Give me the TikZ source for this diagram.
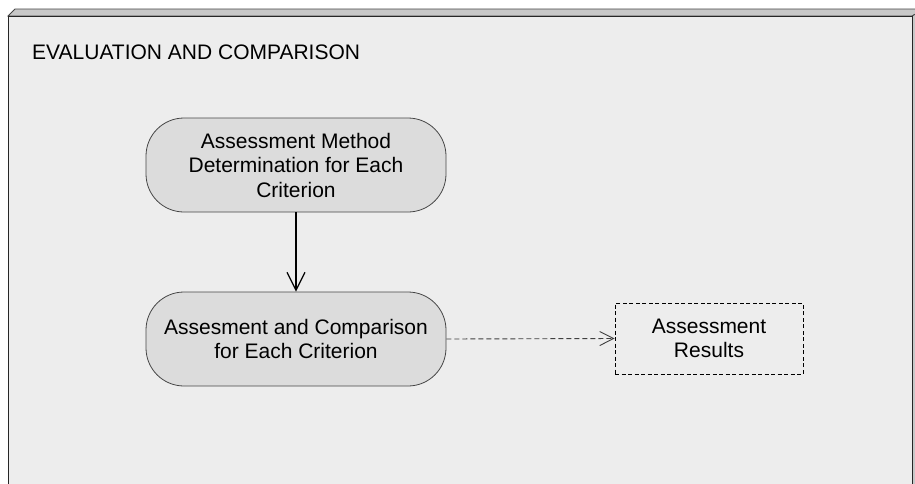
\documentclass[tikz,border=0pt]{standalone}
\usepackage{fontspec}
\setmainfont{Liberation Sans}
\usetikzlibrary{arrows.meta}
\definecolor{pkgfront}{RGB}{237,237,237}
\definecolor{pkgtop}{RGB}{200,200,200}
\definecolor{actfill}{RGB}{220,220,220}
\definecolor{edgegray}{RGB}{70,70,70}
\tikzset{
  txt/.style={font=\fontsize{21}{24.5}\selectfont, align=center},
  activity/.style={txt, draw=edgegray, line width=0.8pt, fill=actfill,
    rounded corners=38pt, minimum width=300pt, minimum height=94pt, inner sep=0pt},
  artifact/.style={txt, draw=black, dashed, dash pattern=on 4pt off 2.5pt,
    line width=0.7pt, fill=pkgfront, minimum width=188pt, minimum height=71pt, inner sep=0pt},
  flow/.style={line width=1.2pt, -{Straight Barb[length=18pt,width=18pt,line width=1.2pt]}},
  dataflow/.style={draw=black!75, line width=0.9pt, dash pattern=on 5pt off 3pt,
    -{Straight Barb[length=14pt,width=14pt,line width=0.9pt]}}
}
\begin{document}
\begin{tikzpicture}[x=1pt,y=-1pt]
  \useasboundingbox (0,0) rectangle (915,483);
  \fill[white] (0,0) rectangle (915,483);
  % package box: top face, side face, front face
  \filldraw[fill=pkgtop, draw=edgegray, line width=0.8pt]
    (8,16) -- (15,9) -- (925,9) -- (912,16) -- cycle;
  \filldraw[fill=pkgtop, draw=edgegray, line width=0.8pt]
    (912,16) -- (925,9) -- (925,500) -- (912,500) -- cycle;
  \filldraw[fill=pkgfront, draw=black!85, line width=0.9pt]
    (8,16) rectangle (912,500);
  \node[txt, anchor=base west, inner sep=0pt] (title) at (32,59) {EVALUATION AND COMPARISON};

  \node[activity] (method) at (296,165) {Assessment Method\\Determination for Each\\Criterion};
  \node[activity] (assess) at (296,339) {Assesment and Comparison\\for Each Criterion};
  \node[artifact] (results) at (709,338.5) {Assessment\\Results};

  \draw[flow] (method) -- (assess);
  \draw[dataflow] (assess.east) -- (results.west);
\end{tikzpicture}
\end{document}
